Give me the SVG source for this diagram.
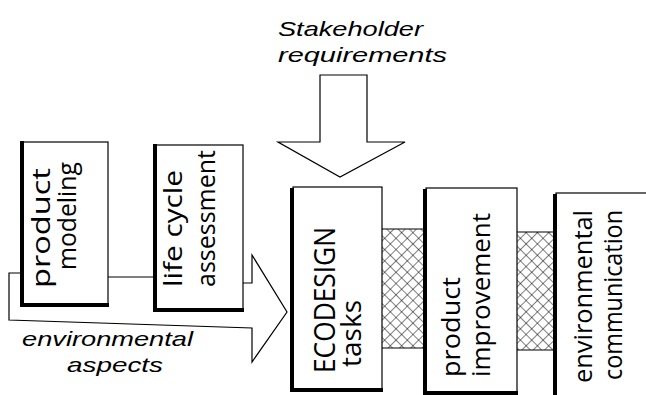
<svg xmlns="http://www.w3.org/2000/svg" width="646" height="395" viewBox="0 0 646 395">
<defs>
<pattern id="hatch" width="8" height="8" patternUnits="userSpaceOnUse" patternTransform="rotate(45)">
<rect width="8" height="8" fill="#fff"/>
<path d="M0,0 H8 M0,0 V8" stroke="#000" stroke-width="1"/>
</pattern>
<style>
.box{fill:#fff;stroke:#000;stroke-width:1.2}
.sh{fill:none;stroke:#000;stroke-width:4;stroke-linecap:square}
.ln{fill:none;stroke:#000;stroke-width:1.2}
.hatch{fill:url(#hatch);stroke:#000;stroke-width:1}
.lbl{font-family:"Open Sans","Liberation Sans",sans-serif;font-weight:400;fill:#000}
.hand{font-family:"Liberation Sans",Arial,sans-serif;font-style:italic;font-size:21px;fill:#000}
</style>
</defs>
<rect width="646" height="395" fill="#fff"/>
<g id="hatching">
<rect class="hatch" x="380" y="229" width="47" height="119"/>
<rect class="hatch" x="515" y="232" width="42" height="118"/>
</g>
<g id="connectors">
<path class="ln" d="M108,277 H155"/>
<path class="ln" d="M243,283 H252 V255 L287,312 L252,362 V328 L9,320 V273 H22"/>
<path class="ln" d="M320,75 H367 V142 H405 L340,177 L278,142 H320 Z" style="fill:#fff"/>
</g>
<g id="stakeholder">
<text class="hand" x="278" y="36" textLength="145" lengthAdjust="spacingAndGlyphs">Stakeholder</text>
<text class="hand" x="278" y="62" textLength="169" lengthAdjust="spacingAndGlyphs">requirements</text>
</g>
<g id="aspects">
<text class="hand" x="22" y="346" textLength="171" lengthAdjust="spacingAndGlyphs">environmental</text>
<text class="hand" x="67" y="372" textLength="96" lengthAdjust="spacingAndGlyphs">aspects</text>
</g>
<g id="product-modeling">
<rect class="box" x="23" y="142" width="85" height="162"/>
<path class="sh" d="M22,143 V305 H107"/>
<text class="lbl" font-size="25" transform="translate(50,288) rotate(-90)" textLength="120" lengthAdjust="spacingAndGlyphs">product</text>
<text class="lbl" font-size="25" transform="translate(76,270) rotate(-90)" textLength="108" lengthAdjust="spacingAndGlyphs">modeling</text>
</g>
<g id="lca">
<rect class="box" x="156" y="145" width="87" height="164"/>
<path class="sh" d="M155,146 V310 H242"/>
<text class="lbl" font-size="25" transform="translate(182,287) rotate(-90)" textLength="117" lengthAdjust="spacingAndGlyphs">life cycle</text>
<text class="lbl" font-size="25" transform="translate(215,287) rotate(-90)" textLength="137" lengthAdjust="spacingAndGlyphs">assessment</text>
</g>
<g id="ecodesign">
<rect class="box" x="293" y="187" width="89" height="202"/>
<path class="sh" d="M292,190 V390 H381"/>
<text class="lbl" font-size="30" transform="translate(335,373) rotate(-90)" textLength="146" lengthAdjust="spacingAndGlyphs">ECODESIGN</text>
<text class="lbl" font-size="27" transform="translate(361,367) rotate(-90)" textLength="67" lengthAdjust="spacingAndGlyphs">tasks</text>
</g>
<g id="improvement">
<rect class="box" x="426" y="188" width="91" height="204"/>
<path class="sh" d="M425,191 V393 H516"/>
<text class="lbl" font-size="26" transform="translate(460,377) rotate(-90)" textLength="100" lengthAdjust="spacingAndGlyphs">product</text>
<text class="lbl" font-size="26" transform="translate(490,377) rotate(-90)" textLength="164" lengthAdjust="spacingAndGlyphs">improvement</text>
</g>
<g id="communication">
<rect class="box" x="556" y="193" width="95" height="210"/>
<path class="sh" d="M555,196 V396"/>
<text class="lbl" font-size="26" transform="translate(592,383) rotate(-90)" textLength="173" lengthAdjust="spacingAndGlyphs">environmental</text>
<text class="lbl" font-size="26" transform="translate(622,380) rotate(-90)" textLength="170" lengthAdjust="spacingAndGlyphs">communication</text>
</g>
</svg>
